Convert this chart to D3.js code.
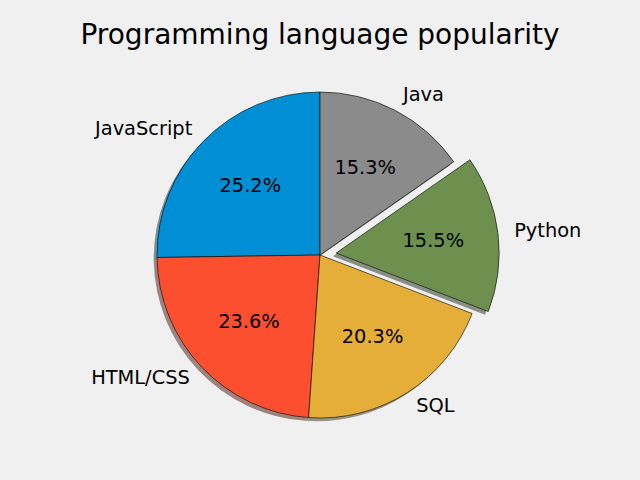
<!DOCTYPE html>
<html><head><meta charset="utf-8">
<script src="https://cdn.jsdelivr.net/npm/d3@7"></script>
<style>body{margin:0;background:#f0f0f0;}svg{display:block;font-family:"DejaVu Sans",sans-serif;}</style>
</head><body>
<script>
const labels = ["JavaScript", "HTML/CSS", "SQL", "Python", "Java"];
const values = [59219, 55466, 47544, 36443, 35917];
const explode = [0, 0, 0, 0.1, 0];
const colors = ["#008fd5", "#fc4f30", "#e5ae38", "#6d904f", "#8b8b8b"];
const title = "Programming language popularity";

const W = 640, H = 480, cx = 320, cy = 255, R = 163;
const svg = d3.select("body").append("svg").attr("width", W).attr("height", H);
svg.append("rect").attr("width", W).attr("height", H).attr("fill", "#f0f0f0");

const total = d3.sum(values);
const pie = d3.pie().sort(null).startAngle(0).endAngle(-2 * Math.PI);
const arcs = pie(values);
const arc = d3.arc().innerRadius(0).outerRadius(R);

function shade(c) {
  const k = d3.rgb(c);
  return d3.rgb(k.r * 0.3, k.g * 0.3, k.b * 0.3).toString();
}
const info = arcs.map((a, i) => {
  const mid = (a.startAngle + a.endAngle) / 2;
  const ex = explode[i] * R;
  return {a, i, mid, ox: cx + Math.sin(mid) * ex, oy: cy - Math.cos(mid) * ex};
});

const sh = R * 0.02;
// shadows
svg.append("g").selectAll("path").data(info).join("path")
  .attr("transform", d => `translate(${d.ox - sh},${d.oy + sh})`)
  .attr("d", d => arc(d.a))
  .attr("fill", d => shade(colors[d.i]))
  .attr("fill-opacity", 0.5);
// wedges
svg.append("g").selectAll("path").data(info).join("path")
  .attr("transform", d => `translate(${d.ox},${d.oy})`)
  .attr("d", d => arc(d.a))
  .attr("fill", d => colors[d.i])
  .attr("stroke", "#000").attr("stroke-width", 0.6).attr("stroke-linejoin", "round");
// labels
svg.append("g").selectAll("text").data(info).join("text")
  .attr("x", d => d.ox + Math.sin(d.mid) * R * 1.1)
  .attr("y", d => d.oy - Math.cos(d.mid) * R * 1.1)
  .attr("dy", "0.28em")
  .attr("text-anchor", d => Math.sin(d.mid) > 0 ? "start" : "end")
  .attr("font-size", "19.4px").attr("fill", "#000")
  .text(d => labels[d.i]);
// percentages
svg.append("g").selectAll("text").data(info).join("text")
  .attr("x", d => d.ox + Math.sin(d.mid) * R * 0.6)
  .attr("y", d => d.oy - Math.cos(d.mid) * R * 0.6)
  .attr("dy", "0.28em")
  .attr("text-anchor", "middle")
  .attr("font-size", "19.4px").attr("fill", "#000")
  .text(d => (values[d.i] / total * 100).toFixed(1) + "%");
// title
svg.append("text").attr("x", 320).attr("y", 34).attr("dy", "0.35em")
  .attr("text-anchor", "middle").attr("font-size", "28px").attr("fill", "#000")
  .text(title);
</script>
</body></html>
